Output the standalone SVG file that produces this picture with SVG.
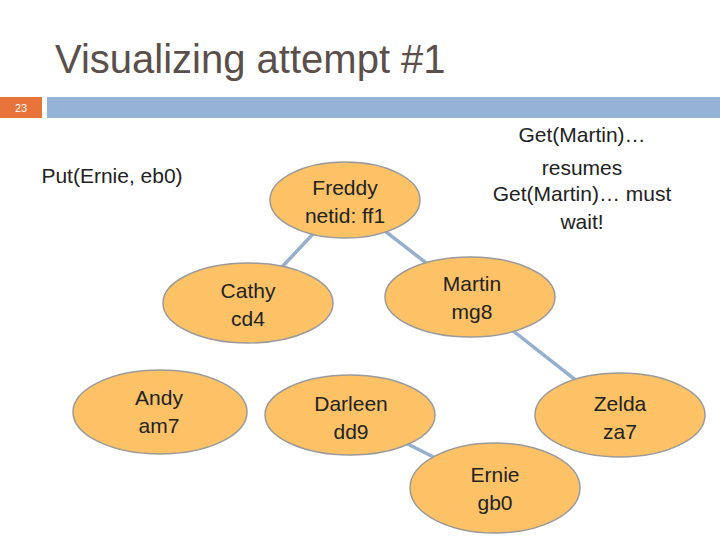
<svg xmlns="http://www.w3.org/2000/svg" width="720" height="540" viewBox="0 0 720 540">
<style>
.n{fill:#fdc266;stroke:#9a9a9a;stroke-width:1.5}
.t{font-family:"Liberation Sans",Arial,sans-serif;font-size:21px;fill:#222;text-anchor:middle}
.c{stroke:#95afcd;stroke-width:3.5;fill:none}
</style>
<rect width="720" height="540" fill="#fff"/>
<text x="55" y="73" font-family="Liberation Sans,Arial,sans-serif" font-size="40" fill="#5a4f4a">Visualizing attempt #1</text>
<rect x="0" y="97" width="42" height="21" fill="#e8743b"/>
<text x="21" y="112" font-family="Liberation Sans,Arial,sans-serif" font-size="11" fill="#fff" text-anchor="middle">23</text>
<rect x="47" y="97" width="673" height="21" fill="#95b3d7"/>
<text x="112" y="183" class="t">Put(Ernie, eb0)</text>
<text class="t"><tspan x="582" y="142">Get(Martin)…</tspan><tspan x="582" y="175">resumes</tspan><tspan x="582" y="201">Get(Martin)… must</tspan><tspan x="582" y="229">wait!</tspan></text>
<g id="connectors">
<line class="c" x1="345" y1="200" x2="248" y2="303"/>
<line class="c" x1="345" y1="200" x2="470" y2="297"/>
<line class="c" x1="470" y1="297" x2="620" y2="415"/>
<line class="c" x1="350" y1="415" x2="495" y2="488"/>
</g>
<g id="freddy"><ellipse class="n" cx="345" cy="200" rx="75" ry="38"/><text class="t"><tspan x="345" y="195">Freddy</tspan><tspan x="345" y="223">netid: ff1</tspan></text></g>
<g id="cathy"><ellipse class="n" cx="248" cy="303" rx="85" ry="40"/><text class="t"><tspan x="248" y="298">Cathy</tspan><tspan x="248" y="326">cd4</tspan></text></g>
<g id="martin"><ellipse class="n" cx="470" cy="297" rx="85" ry="40"/><text class="t"><tspan x="472" y="291">Martin</tspan><tspan x="472" y="319">mg8</tspan></text></g>
<g id="andy"><ellipse class="n" cx="160" cy="412" rx="87" ry="42"/><text class="t"><tspan x="159" y="405">Andy</tspan><tspan x="159" y="433">am7</tspan></text></g>
<g id="darleen"><ellipse class="n" cx="350" cy="415" rx="85" ry="40"/><text class="t"><tspan x="351" y="411">Darleen</tspan><tspan x="351" y="439">dd9</tspan></text></g>
<g id="zelda"><ellipse class="n" cx="620" cy="415" rx="85" ry="42"/><text class="t"><tspan x="620" y="411">Zelda</tspan><tspan x="620" y="439">za7</tspan></text></g>
<g id="ernie"><ellipse class="n" cx="495" cy="488" rx="85" ry="45"/><text class="t"><tspan x="495" y="482">Ernie</tspan><tspan x="495" y="510">gb0</tspan></text></g>
</svg>
